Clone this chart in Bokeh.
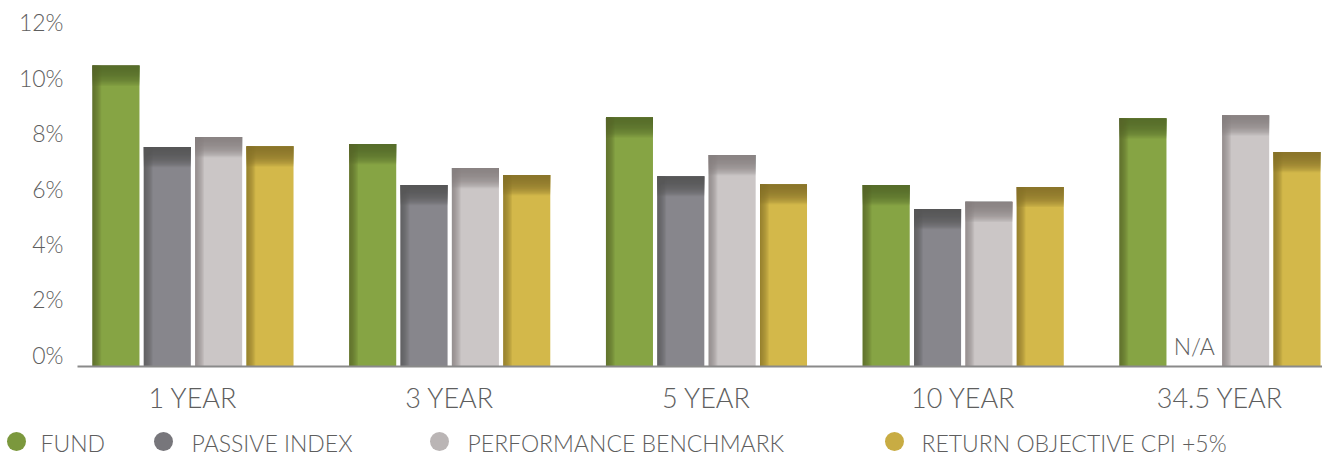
import numpy as np
from bokeh.plotting import figure
from bokeh.layouts import column
from bokeh.models import Range1d, LinearAxis, FixedTicker
from bokeh.core.properties import value
from bokeh.embed import file_html
from bokeh.resources import INLINE

# ---------------- data ----------------
categories = ["1 YEAR", "3 YEAR", "5 YEAR", "10 YEAR", "34.5 YEAR"]
fund = [10.88, 8.04, 9.01, 6.56, 8.97]
passive_index = [7.93, 6.56, 6.88, 5.69, None]
performance_benchmark = [8.29, 7.17, 7.64, 5.95, 9.08]
return_objective = [7.96, 6.92, 6.59, 6.49, 7.75]
series_names = ["FUND", "PASSIVE INDEX", "PERFORMANCE BENCHMARK", "RETURN OBJECTIVE CPI +5%"]
y_ticks = [0, 2, 4, 6, 8, 10, 12]
y_tick_labels = ["0%", "2%", "4%", "6%", "8%", "10%", "12%"]
na_text = "N/A"

# ---------------- styles ----------------
main_colors = ["#86a444", "#87868c", "#cbc6c6", "#d3b84a"]
dark_colors = ["#55682a", "#545458", "#858181", "#88742b"]
legend_colors = ["#7b983d", "#77767b", "#bab5b5", "#c8ac43"]
FONT = "Lato Light"
TEXT = "#5e5e5e"

W = 1322
HM, HL = 416, 40            # main figure / legend strip heights
LEFT, RIGHT, TOP = 77, 0, 18
BOTTOM = HM - 367
PX_Y = 27.75                # pixels per 1 %
PX_X = 256.75               # pixels per category
frame_h = HM - TOP - BOTTOM
frame_w = W - LEFT - RIGHT
y_end = frame_h / PX_Y
x_start = 0.5 - 115.5 / PX_X
x_end = x_start + frame_w / PX_X
label_shift = 12 / PX_Y

bar_w = 47 / PX_X
offsets = [-0.3, -0.1, 0.1, 0.3]

p = figure(width=W, height=HM, output_backend="svg", toolbar_location=None,
           x_range=Range1d(x_start, x_end), y_range=Range1d(0, y_end),
           y_axis_location=None, frame_align=False,
           min_border_left=LEFT, min_border_right=RIGHT,
           min_border_top=TOP, min_border_bottom=BOTTOM)
p.outline_line_color = None
p.grid.visible = False
p.background_fill_color = "white"
p.border_fill_color = "white"

# y axis (labels sit slightly above their value, as in the reference)
p.extra_y_ranges = {"lab": Range1d(-label_shift, y_end - label_shift)}
yax = LinearAxis(y_range_name="lab", ticker=FixedTicker(ticks=y_ticks),
                 major_label_overrides={t: l for t, l in zip(y_ticks, y_tick_labels)})
yax.axis_line_color = None
yax.major_tick_line_color = None
yax.minor_tick_line_color = None
yax.major_tick_out = 0
yax.major_tick_in = 0
yax.minor_tick_out = 0
yax.major_label_standoff = 14
yax.major_label_text_font = FONT
yax.major_label_text_font_size = "23px"
yax.major_label_text_color = TEXT
p.add_layout(yax, "left")

# x axis
xax = p.xaxis[0]
xax.ticker = FixedTicker(ticks=[i + 0.5 for i in range(len(categories))])
xax.major_label_overrides = {i + 0.5: c for i, c in enumerate(categories)}
xax.axis_line_color = "#8a8a8a"
xax.axis_line_width = 2
xax.major_tick_line_color = None
xax.minor_tick_line_color = None
xax.major_tick_out = 0
xax.major_tick_in = 0
xax.minor_tick_out = 0
xax.major_label_standoff = 14
xax.major_label_text_font = FONT
xax.major_label_text_font_size = "27px"
xax.major_label_text_color = TEXT

# bars with inner shading
all_series = [fund, passive_index, performance_benchmark, return_objective]
idx = np.arange(len(categories))
for si, vals in enumerate(all_series):
    v = np.array([np.nan if a is None else a for a in vals], dtype=float)
    ok = ~np.isnan(v)
    xc = idx[ok] + 0.5 + offsets[si]
    vv = v[ok]
    p.vbar(x=xc, top=vv, bottom=0, width=bar_w, fill_color=main_colors[si], line_color=None)
    # top inner shadow: nested strips -> smooth fade
    for k in range(16):
        hpx = 1.5 + k * 1.25
        p.vbar(x=xc, top=vv, bottom=vv - hpx / PX_Y, width=bar_w,
               fill_color=dark_colors[si], fill_alpha=0.14, line_color=None)
    # left inner shadow: nested strips
    for j in range(8):
        wpx = 1.0 + j * 1.1
        p.vbar(x=xc - bar_w / 2 + (wpx / PX_X) / 2, top=vv, bottom=0, width=wpx / PX_X,
               fill_color=dark_colors[si], fill_alpha=0.15, line_color=None)

# N/A marker for the missing value (lifted above the axis line)
na_x = [i + 0.5 + offsets[1] for i, a in enumerate(passive_index) if a is None]
p.text(x=na_x, y=[20.5 / PX_Y] * len(na_x), text=[na_text] * len(na_x), text_align="center",
       text_baseline="middle", text_font=value(FONT),
       text_font_size="23px", text_color=TEXT)

# ---------------- legend strip (pixel coordinates) ----------------
lf = figure(width=W, height=HL, output_backend="svg", toolbar_location=None,
            x_range=Range1d(0, W), y_range=Range1d(HL, 0), frame_align=False,
            x_axis_location=None, y_axis_location=None,
            min_border_left=0, min_border_right=0, min_border_top=0, min_border_bottom=0)
lf.outline_line_color = None
lf.grid.visible = False
lf.background_fill_color = "white"
lf.border_fill_color = "white"

legend_dot_x = [16, 163, 439, 894]
legend_text_x = [40, 191, 467, 921]
legend_cy = 25
lf.scatter(x=legend_dot_x, y=[legend_cy] * 4, marker="circle", size=19,
           fill_color=legend_colors, line_color=None)
lf.text(x=legend_text_x, y=[legend_cy + 1] * 4, text=series_names,
        text_baseline="middle", text_align="left", text_font=value(FONT),
        text_font_size="23px", text_color=TEXT)

open("out.html", "w").write(file_html(column(p, lf), INLINE))
